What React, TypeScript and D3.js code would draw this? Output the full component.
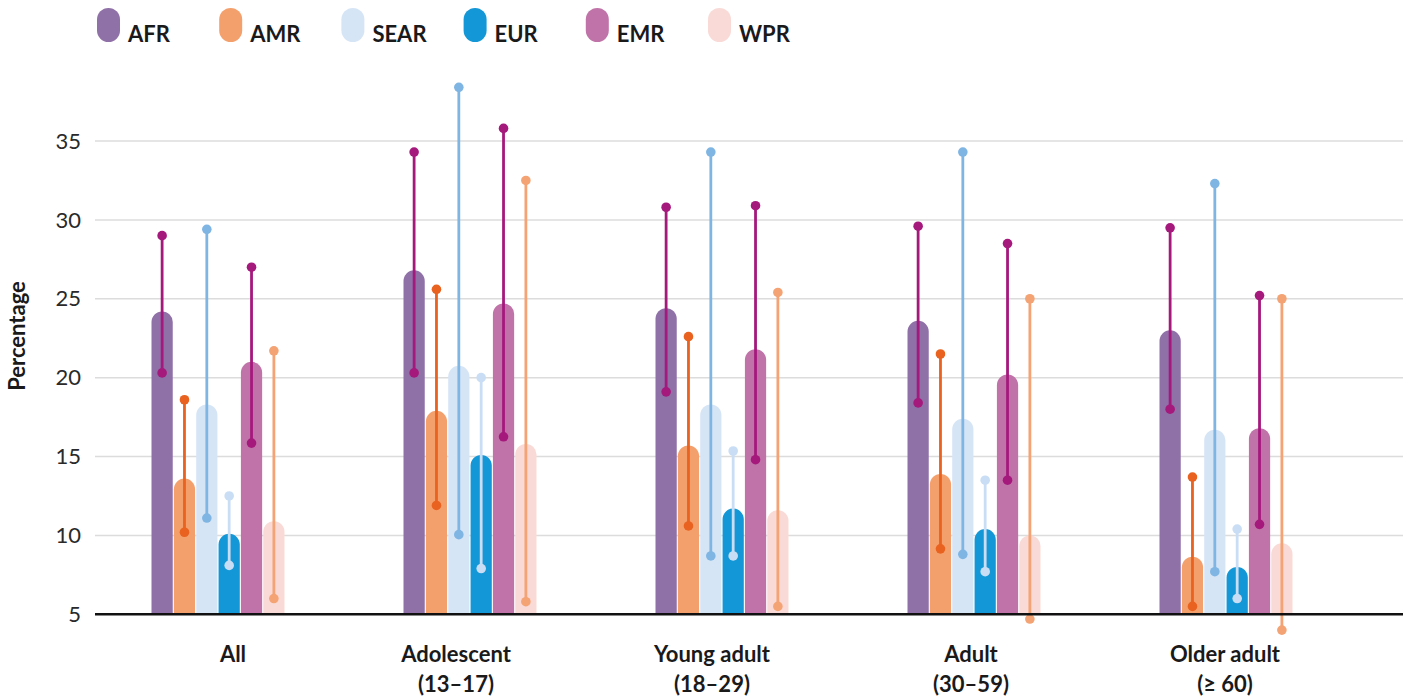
import React from "react";
import * as d3 from "d3";

// Age groups and WHO regions
const groups = ["All", "Adolescent", "Young adult", "Adult", "Older adult"];
const groupSub = ["", "(13–17)", "(18–29)", "(30–59)", "(≥ 60)"];
const regions = ["AFR", "AMR", "SEAR", "EUR", "EMR", "WPR"];

// Point estimates (%) per region, one value per age group
const AFR = [24.2, 26.8, 24.4, 23.6, 23.0];
const AMR = [13.6, 17.9, 15.7, 13.9, 8.65];
const SEAR = [18.3, 20.75, 18.3, 17.4, 16.7];
const EUR = [10.1, 15.1, 11.7, 10.4, 8.0];
const EMR = [21.0, 24.7, 21.8, 20.2, 16.8];
const WPR = [10.9, 15.8, 11.6, 10.0, 9.5];

// Uncertainty intervals (low / high) per region
const AFR_lo = [20.3, 20.3, 19.1, 18.4, 18.0];
const AFR_hi = [29.0, 34.3, 30.8, 29.6, 29.5];
const AMR_lo = [10.2, 11.9, 10.6, 9.15, 5.5];
const AMR_hi = [18.6, 25.6, 22.6, 21.5, 13.7];
const SEAR_lo = [11.1, 10.05, 8.7, 8.8, 7.7];
const SEAR_hi = [29.4, 38.4, 34.3, 34.3, 32.3];
const EUR_lo = [8.1, 7.9, 8.7, 7.7, 6.0];
const EUR_hi = [12.5, 20.0, 15.35, 13.5, 10.4];
const EMR_lo = [15.85, 16.25, 14.8, 13.5, 10.7];
const EMR_hi = [27.0, 35.8, 30.9, 28.5, 25.2];
const WPR_lo = [6.0, 5.8, 5.5, 4.7, 4.0];
const WPR_hi = [21.7, 32.5, 25.4, 25.0, 25.0];

const yTicks = [5, 10, 15, 20, 25, 30, 35];

const values = [AFR, AMR, SEAR, EUR, EMR, WPR];
const lows = [AFR_lo, AMR_lo, SEAR_lo, EUR_lo, EMR_lo, WPR_lo];
const highs = [AFR_hi, AMR_hi, SEAR_hi, EUR_hi, EMR_hi, WPR_hi];

const barColors = ["#8f70a7", "#f4a06d", "#d6e5f6", "#1497d6", "#c073a8", "#f9dad6"];
const ciColors = ["#a5197d", "#e9621f", "#7fb5e3", "#c9def4", "#a5197d", "#f4a374"];

const W = 1408;
const H = 698;
const FONT = "Lato, 'Noto Sans', sans-serif";
// horizontal nudges of the category captions relative to their group centre
const LABEL_DX = [15, -14, -10, -3, -1];

export default function App() {
  const y = d3.scaleLinear().domain([5, 35]).range([614.3, 141]);
  const x = d3.scalePoint<string>().domain(groups).range([92, 1352]).padding(0.5);
  const inner = d3.scaleBand<string>().domain(regions).range([-66.5, 66.5]).paddingInner(0.05);
  const bw = inner.bandwidth();
  const r = bw / 2;
  const base = y(5);

  const barPath = (cx: number, v: number) => {
    const top = y(v);
    const x0 = cx - r;
    const x1 = cx + r;
    const p = d3.path();
    p.moveTo(x0, base);
    p.lineTo(x0, top + r);
    p.arc(cx, top + r, r, Math.PI, 0);
    p.lineTo(x1, base);
    p.closePath();
    return p.toString();
  };

  return (
    <svg
      width={W}
      height={H}
      style={{ position: "absolute", left: 0, top: 0, background: "#fff" }}
      fontFamily={FONT}
    >
      {/* legend */}
      {regions.map((reg, i) => {
        const lx = 97 + i * 122.2;
        return (
          <g key={reg}>
            <rect x={lx} y={8} width={23} height={34} rx={11.5} fill={barColors[i]} />
            <text x={lx + 31} y={42} fontSize={22} fontWeight={700} fill="#1a1a1a">
              {reg}
            </text>
          </g>
        );
      })}

      {/* grid */}
      {yTicks.map((t) => (
        <g key={t}>
          {t !== 5 && (
            <line x1={95} x2={1403} y1={y(t)} y2={y(t)} stroke="#dcdcdc" strokeWidth={1.5} />
          )}
          <text
            x={81}
            y={y(t)}
            dy="0.35em"
            textAnchor="end"
            fontSize={22}
            fill="#2a2a2a"
          >
            {t}
          </text>
        </g>
      ))}

      <text
        transform={`translate(25,336) rotate(-90)`}
        textAnchor="middle"
        fontSize={22}
        fontWeight={700}
        fill="#1a1a1a"
      >
        Percentage
      </text>

      {/* bars */}
      {groups.map((g, gi) => (
        <g key={g}>
          {regions.map((reg, ri) => {
            const cx = (x(g) as number) + (inner(reg) as number) + bw / 2;
            return <path key={reg} d={barPath(cx, values[ri][gi])} fill={barColors[ri]} />;
          })}
        </g>
      ))}

      {/* uncertainty intervals */}
      {groups.map((g, gi) => (
        <g key={g}>
          {regions.map((reg, ri) => {
            const cx = (x(g) as number) + (inner(reg) as number) + bw / 2;
            const c = ciColors[ri];
            return (
              <g key={reg}>
                <line
                  x1={cx}
                  x2={cx}
                  y1={y(lows[ri][gi])}
                  y2={y(highs[ri][gi])}
                  stroke={c}
                  strokeWidth={2.8}
                />
                <circle cx={cx} cy={y(lows[ri][gi])} r={4.8} fill={c} />
                <circle cx={cx} cy={y(highs[ri][gi])} r={4.8} fill={c} />
              </g>
            );
          })}
        </g>
      ))}

      {/* baseline */}
      <line x1={95} x2={1403} y1={base} y2={base} stroke="#111" strokeWidth={2.5} />

      {/* category labels */}
      {groups.map((g, gi) => {
        const lx = (x(g) as number) + LABEL_DX[gi];
        return (
          <g key={g}>
            <text
              x={lx}
              y={662}
              textAnchor="middle"
              fontSize={22}
              fontWeight={700}
              fill="#1a1a1a"
            >
              {g}
            </text>
            {groupSub[gi] && (
              <text
                x={lx}
                y={692}
                textAnchor="middle"
                fontSize={22}
                fontWeight={700}
                fill="#1a1a1a"
              >
                {groupSub[gi]}
              </text>
            )}
          </g>
        );
      })}
    </svg>
  );
}
